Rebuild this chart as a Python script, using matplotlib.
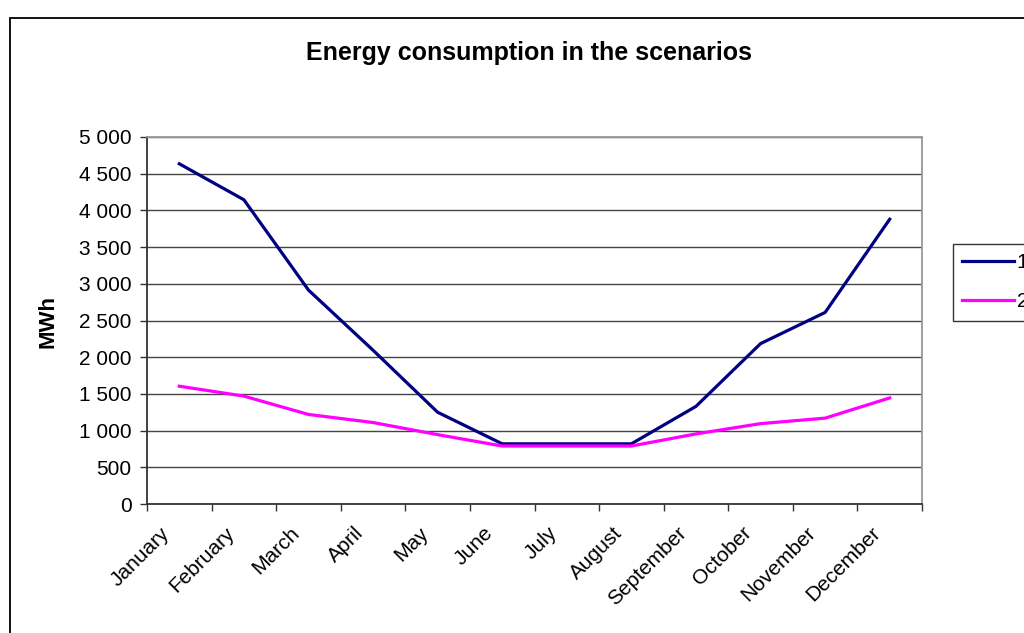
import matplotlib
matplotlib.use("Agg")
import matplotlib.pyplot as plt
from matplotlib.patches import Rectangle
from matplotlib.ticker import FuncFormatter
from matplotlib.transforms import ScaledTranslation

MONTHS = ["January", "February", "March", "April", "May", "June", "July",
          "August", "September", "October", "November", "December"]
SCENARIO_1 = [4635, 4145, 2915, 2095, 1250, 820, 820, 820, 1330, 2185, 2610, 3880]
SCENARIO_2 = [1605, 1470, 1220, 1110, 945, 790, 790, 790, 955, 1095, 1170, 1445]
SERIES_NAMES = ["1", "2"]

plt.rcParams["font.family"] = ["Liberation Sans", "DejaVu Sans"]

fig = plt.figure(figsize=(10.24, 6.33), dpi=100)
ax = fig.add_axes([147 / 1024, 1 - 504 / 633, 775 / 1024, 367 / 633])

x = range(len(MONTHS))
l1, = ax.plot(x, SCENARIO_1, color="#000080", lw=2.3, solid_joinstyle="miter")
l2, = ax.plot(x, SCENARIO_2, color="#ff00ff", lw=2.3, solid_joinstyle="miter")

ax.set_xlim(-0.5, len(MONTHS) - 0.5)
ax.set_ylim(0, 5000)

# category boundaries carry the tick marks, centres carry the labels
ax.set_xticks([i - 0.5 for i in range(len(MONTHS) + 1)])
ax.set_xticklabels([])
ax.set_xticks(list(x), minor=True)
ax.set_xticklabels(MONTHS, minor=True, rotation=45, ha="right",
                   rotation_mode="anchor", fontsize=15)
ax.tick_params(axis="x", which="minor", length=0, pad=14)
ax.tick_params(axis="x", which="major", length=5, width=1, color="#333333")
shift = ScaledTranslation(-0.19, 0, fig.dpi_scale_trans)
for lab in ax.get_xticklabels(minor=True):
    lab.set_transform(lab.get_transform() + shift)

ax.set_yticks(range(0, 5001, 500))
ax.yaxis.set_major_formatter(FuncFormatter(lambda v, _: f"{int(v):,}".replace(",", " ")))
ax.tick_params(axis="y", length=5, width=1, color="#333333", labelsize=15, pad=6)

ax.grid(axis="y", color="#444444", lw=1)
ax.set_axisbelow(True)
for side in ("left", "bottom"):
    ax.spines[side].set_color("#333333")
    ax.spines[side].set_linewidth(1.3)
for side in ("top", "right"):
    ax.spines[side].set_color("#999999")
    ax.spines[side].set_linewidth(1.3)

fig.text(48 / 1024, 1 - 321 / 633, "MWh", rotation=90, ha="center",
         va="center", fontsize=16, fontweight="bold")
fig.text(529 / 1024, 1 - 53 / 633, "Energy consumption in the scenarios",
         ha="center", va="center", fontsize=18, fontweight="bold")

fig.legend([l1, l2], SERIES_NAMES, loc="upper left",
           bbox_to_anchor=(953 / 1024, 1 - 244 / 633), frameon=True,
           fancybox=False, edgecolor="black", fontsize=15, handlelength=2.5,
           handletextpad=0.1, borderpad=0.45, labelspacing=0.95,
           borderaxespad=0)

# outer chart frame running off the right and bottom edges
fig.patches.append(Rectangle((10 / 1024, -0.1), 1.2, 1 - 18 / 633 + 0.1,
                             transform=fig.transFigure, fill=False,
                             edgecolor="black", lw=1.3))

fig.savefig("out.png", dpi=100)
